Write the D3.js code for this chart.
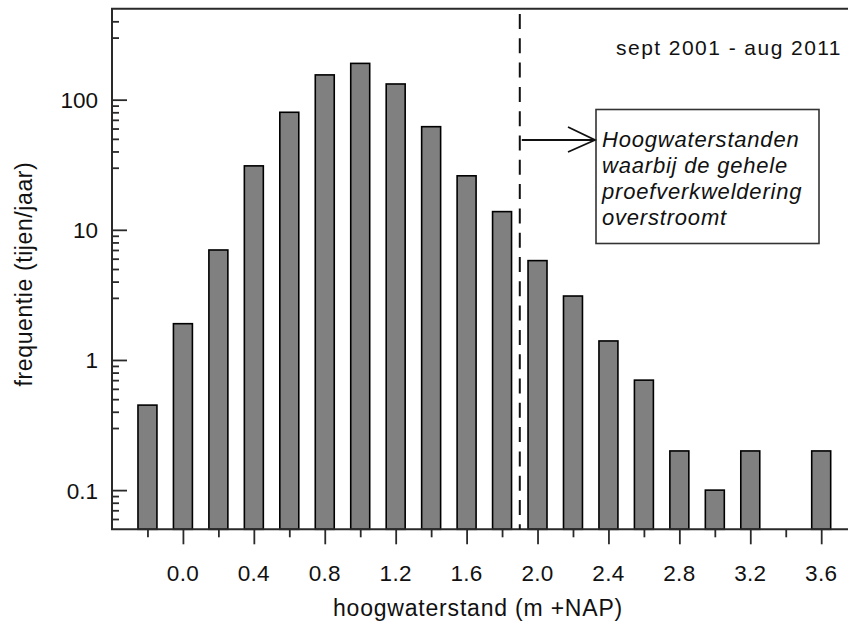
<!DOCTYPE html>
<html>
<head>
<meta charset="utf-8">
<script src="https://cdn.jsdelivr.net/npm/d3@7"></script>
<style>
  html, body { margin: 0; padding: 0; background: #fff; }
  svg { display: block; font-family: "Liberation Sans", Arial, sans-serif; }
</style>
</head>
<body>
<svg id="chart" width="848" height="630"></svg>
<script>
// High-water level classes (m +NAP) and their frequency (tides per year)
const waterLevels = [-0.2, 0.0, 0.2, 0.4, 0.6, 0.8, 1.0, 1.2, 1.4, 1.6, 1.8, 2.0, 2.2, 2.4, 2.6, 2.8, 3.0, 3.2, 3.4, 3.6];
const frequency   = [0.45, 1.9, 7, 31, 80, 155, 190, 132, 62, 26, 13.8, 5.8, 3.1, 1.4, 0.7, 0.2, 0.1, 0.2, 0, 0.2];

const xLabelTicks = [0.0, 0.4, 0.8, 1.2, 1.6, 2.0, 2.4, 2.8, 3.2, 3.6];
const xMinorTicks = [-0.2, 0.2, 0.6, 1.0, 1.4, 1.8, 2.2, 2.6, 3.0, 3.4];
const yLabelTicks = [0.1, 1, 10, 100];

const floodLevel = 1.9;   // level above which the whole test site floods
const periodText = "sept 2001 - aug 2011";
const noteLines = ["Hoogwaterstanden", "waarbij de gehele", "proefverkweldering", "overstroomt"];
const xTitle = "hoogwaterstand (m +NAP)";
const yTitle = "frequentie (tijen/jaar)";

const svg = d3.select("#chart");
const axisColor = "#2a2a2a";

const plot = { left: 112, top: 8.7, bottom: 529.3 };

const x = d3.scaleLinear().domain([-0.4, 3.8]).range([plot.left, plot.left + 4.2 * 177.3]);
const y = d3.scaleLog().domain([0.05, 500]).range([plot.bottom, plot.top]);

// Bars
const bars = waterLevels.map((v, i) => ({ level: v, freq: frequency[i] })).filter(d => d.freq > 0);
const barW = (x(0.2) - x(0)) * 0.535;
svg.append("g").selectAll("rect").data(bars).join("rect")
  .attr("x", d => x(d.level) - barW / 2)
  .attr("y", d => y(d.freq))
  .attr("width", barW)
  .attr("height", d => plot.bottom - y(d.freq))
  .attr("fill", "#808080")
  .attr("stroke", "#000")
  .attr("stroke-width", 1.6);

// Y axis: major ticks at decades, minor ticks at 3..9 per decade, drawn inward
const yMinor = y.ticks(40).filter(t => {
  const m = Math.round(t / Math.pow(10, Math.floor(Math.log10(t) + 1e-9)));
  return m >= 3 && t > 0.05 && t < 500;
});
const yAxisMajor = d3.axisRight(y).tickValues(yLabelTicks).tickSize(15).tickFormat("");
const yAxisMinor = d3.axisRight(y).tickValues(yMinor).tickSize(7).tickFormat("");
[yAxisMajor, yAxisMinor].forEach(ax => {
  const g = svg.append("g").attr("transform", `translate(${plot.left},0)`).call(ax);
  g.select(".domain").remove();
  g.selectAll("line").attr("stroke", axisColor).attr("stroke-width", 1.8);
});
svg.append("g").selectAll("text").data(yLabelTicks).join("text")
  .attr("x", 98).attr("y", d => y(d) + 8.5)
  .attr("text-anchor", "end")
  .attr("font-size", 22.5).attr("letter-spacing", 0)
  .attr("fill", "#111")
  .text(d => d < 1 ? d3.format(".1f")(d) : d3.format("d")(d));

// X axis: labelled ticks long, intermediate ticks short, drawn outward
const xAxisMajor = d3.axisBottom(x).tickValues(xLabelTicks).tickSize(15).tickFormat("");
const xAxisMinor = d3.axisBottom(x).tickValues(xMinorTicks).tickSize(8).tickFormat("");
[xAxisMajor, xAxisMinor].forEach(ax => {
  const g = svg.append("g").attr("transform", `translate(0,${plot.bottom})`).call(ax);
  g.select(".domain").remove();
  g.selectAll("line").attr("stroke", axisColor).attr("stroke-width", 1.8);
});
svg.append("g").selectAll("text").data(xLabelTicks).join("text")
  .attr("x", d => x(d)).attr("y", 581)
  .attr("text-anchor", "middle")
  .attr("font-size", 22.5).attr("letter-spacing", 0.3)
  .attr("fill", "#111")
  .text(d => d3.format(".1f")(d));

// Frame: left axis, bottom axis, top border
svg.append("path")
  .attr("d", `M${x.range()[1]},${plot.top}H${plot.left}V${plot.bottom}H${x.range()[1]}`)
  .attr("fill", "none").attr("stroke", axisColor).attr("stroke-width", 2);

// Flood threshold line
svg.append("line")
  .attr("x1", x(floodLevel)).attr("x2", x(floodLevel))
  .attr("y1", 14).attr("y2", plot.bottom)
  .attr("stroke", "#111").attr("stroke-width", 2)
  .attr("stroke-dasharray", "15,9.3");

// Period label
svg.append("text")
  .attr("x", 842).attr("y", 55)
  .attr("text-anchor", "end")
  .attr("font-size", 21).attr("letter-spacing", 1.45)
  .attr("fill", "#111")
  .text(periodText);

// Annotation box with arrow
const box = { x: 596, y: 109.5, w: 223, h: 134 };
svg.append("rect")
  .attr("x", box.x).attr("y", box.y).attr("width", box.w).attr("height", box.h)
  .attr("fill", "#fff").attr("stroke", "#333").attr("stroke-width", 1.6);
svg.append("g").selectAll("text").data(noteLines).join("text")
  .attr("x", box.x + 6).attr("y", (d, i) => 147 + i * 26.1)
  .attr("font-size", 22).attr("font-style", "italic").attr("letter-spacing", 0.8)
  .attr("fill", "#111")
  .text(d => d);

const arrowY = 140;
svg.append("line")
  .attr("x1", x(floodLevel) + 2).attr("x2", box.x - 1)
  .attr("y1", arrowY).attr("y2", arrowY)
  .attr("stroke", "#111").attr("stroke-width", 1.8);
svg.append("path")
  .attr("d", `M${box.x - 28},${arrowY - 13}L${box.x - 1},${arrowY}L${box.x - 28},${arrowY + 12}`)
  .attr("fill", "none").attr("stroke", "#111").attr("stroke-width", 1.8);

// Axis titles
svg.append("text")
  .attr("x", 478).attr("y", 616)
  .attr("text-anchor", "middle")
  .attr("font-size", 23).attr("letter-spacing", 0.8)
  .attr("fill", "#111")
  .text(xTitle);
svg.append("text")
  .attr("transform", `translate(32,274) rotate(-90)`)
  .attr("text-anchor", "middle")
  .attr("font-size", 23).attr("letter-spacing", 0.6)
  .attr("fill", "#111")
  .text(yTitle);
</script>
</body>
</html>
